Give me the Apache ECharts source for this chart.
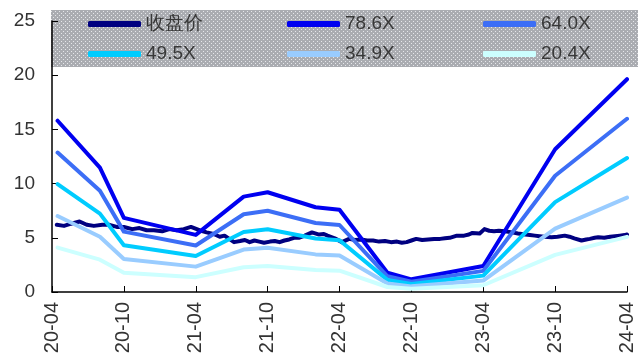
<!DOCTYPE html>
<html>
<head>
<meta charset="utf-8">
<script src="https://cdn.jsdelivr.net/npm/echarts@6/dist/echarts.min.js"></script>
<style>
  html, body { margin: 0; padding: 0; background: #fff; }
  #chart { width: 638px; height: 363px; }
</style>
</head>
<body>
<div id="chart"></div>
<script>
// closing price
const closeDates = [
  '2020-04-13','2020-05-01','2020-05-19','2020-06-10','2020-06-28','2020-07-16','2020-08-07','2020-08-25',
  '2020-09-13','2020-10-01','2020-10-22','2020-11-10','2020-11-28','2020-12-16','2021-01-07','2021-01-25',
  '2021-02-13','2021-03-01','2021-03-19','2021-04-10','2021-04-28','2021-05-16','2021-06-01','2021-06-13',
  '2021-06-25','2021-07-07','2021-07-22','2021-08-04','2021-08-16','2021-08-28','2021-09-10','2021-09-22',
  '2021-10-07','2021-10-19','2021-11-01','2021-11-13','2021-11-25','2021-12-07','2021-12-19','2022-01-04',
  '2022-01-22','2022-02-10','2022-02-22','2022-03-01','2022-03-19','2022-04-07','2022-04-25','2022-05-10',
  '2022-05-25','2022-06-10','2022-06-25','2022-07-10','2022-07-25','2022-08-10','2022-08-25','2022-09-07',
  '2022-09-19','2022-10-01','2022-10-13','2022-10-28','2022-11-13','2022-11-28','2022-12-13','2022-12-25',
  '2023-01-07','2023-01-25','2023-02-13','2023-02-25','2023-03-04','2023-03-22','2023-04-04','2023-04-16',
  '2023-04-28','2023-05-10','2023-05-25','2023-06-13','2023-06-28','2023-07-16','2023-07-28','2023-08-10',
  '2023-08-22','2023-09-04','2023-09-22','2023-10-07','2023-10-25','2023-11-07','2023-11-19','2023-12-07',
  '2023-12-19','2023-12-28','2024-01-10','2024-01-19','2024-02-04','2024-02-19','2024-03-01','2024-03-13',
  '2024-03-25','2024-04-01'
];
const closeValues = [
  6.2, 6.1, 6.3, 6.5, 6.2, 6.1, 6.2, 6.2,
  6.0, 6.0, 5.8, 5.9, 5.7, 5.7, 5.6, 5.8,
  5.7, 5.8, 6.0, 5.7, 5.5, 5.35, 5.1, 5.2,
  4.9, 4.6, 4.7, 4.8, 4.6, 4.75, 4.65, 4.55,
  4.65, 4.7, 4.6, 4.75, 4.85, 5.0, 5.0, 5.2,
  5.5, 5.3, 5.35, 5.2, 4.95, 4.6, 4.9, 4.8,
  4.85, 4.75, 4.75, 4.65, 4.7, 4.6, 4.65, 4.55,
  4.6, 4.75, 4.9, 4.8, 4.85, 4.9, 4.9, 4.95,
  5.0, 5.2, 5.2, 5.3, 5.45, 5.4, 5.8, 5.65,
  5.6, 5.65, 5.6, 5.5, 5.4, 5.3, 5.25, 5.2,
  5.15, 5.1, 5.05, 5.1, 5.2, 5.1, 4.95, 4.75,
  4.85, 4.9, 5.0, 5.05, 5.0, 5.1, 5.15, 5.2,
  5.25, 5.3
];

// PE band vertices
const bandDates = [
  '2020-04-15','2020-08-01','2020-10-01','2021-04-01','2021-08-01','2021-10-01','2022-02-01',
  '2022-04-01','2022-08-01','2022-10-01','2023-04-01','2023-10-01','2024-04-01'
];
const band786 = [15.80, 11.48, 6.84, 5.27, 8.80, 9.20, 7.82, 7.58, 1.78, 1.17, 2.40, 13.17, 19.63];
const band640 = [12.86, 9.34, 5.57, 4.29, 7.17, 7.49, 6.37, 6.18, 1.45, 0.95, 1.95, 10.72, 15.98];
const band495 = [9.95, 7.23, 4.31, 3.32, 5.54, 5.79, 4.93, 4.78, 1.12, 0.74, 1.51, 8.29, 12.36];
const band349 = [7.01, 5.10, 3.04, 2.34, 3.91, 4.08, 3.47, 3.37, 0.79, 0.52, 1.06, 5.85, 8.71];
const band204 = [4.10, 2.98, 1.77, 1.37, 2.28, 2.39, 2.03, 1.97, 0.46, 0.30, 0.62, 3.42, 5.09];

const xTickLabels = ['20-04', '20-10', '21-04', '21-10', '22-04', '22-10', '23-04', '23-10', '24-04'];

const FONT = "'Liberation Sans', Arial, sans-serif";

// months since 2020-04
function toMonth(s) {
  const [y, m, d] = s.split('-').map(Number);
  return (y - 2020) * 12 + (m - 4) + (d - 1) / 30;
}
function pairs(dates, values) {
  return dates.map((d, i) => [toMonth(d), values[i]]);
}

// grey dotted fill of the legend box
function dotPattern() {
  const c = document.createElement('canvas');
  c.width = 4; c.height = 4;
  const g = c.getContext('2d');
  g.fillStyle = '#aaacb1';
  g.fillRect(0, 0, 4, 4);
  g.fillStyle = '#e6e7ea';
  g.fillRect(1, 1, 1, 1);
  g.fillRect(3, 3, 1, 1);
  return { image: c, repeat: 'repeat' };
}

function lineSeries(name, color, data, width) {
  return {
    name,
    type: 'line',
    data,
    showSymbol: false,
    symbol: 'none',
    itemStyle: { color },
    lineStyle: { color, width, cap: 'round', join: 'round' },
    emphasis: { disabled: true },
    animation: false,
  };
}

const legendBase = {
  orient: 'vertical',
  top: 14,
  padding: 0,
  itemWidth: 53,
  itemHeight: 6,
  itemGap: 10,
  icon: 'roundRect',
  textStyle: { fontFamily: FONT, fontSize: 19, color: '#383838', lineHeight: 20 },
};

const chart = echarts.init(document.getElementById('chart'), null, { renderer: 'canvas' });
chart.setOption({
  animation: false,
  graphic: [
    {
      type: 'rect',
      z: -1,
      shape: { x: 51, y: 10, width: 600, height: 57 },
      style: { fill: dotPattern() },
    },
  ],
  legend: [
    Object.assign({}, legendBase, { left: 88, data: ['收盘价', '49.5X'] }),
    Object.assign({}, legendBase, { left: 287, data: ['78.6X', '34.9X'] }),
    Object.assign({}, legendBase, { left: 483, data: ['64.0X', '20.4X'] }),
  ],
  grid: { left: 52, right: 11, top: 21, bottom: 71 },
  xAxis: {
    type: 'value',
    min: 0,
    max: 48,
    interval: 6,
    axisLine: { lineStyle: { color: '#000', width: 1.5 } },
    axisTick: { inside: true, length: 6, lineStyle: { color: '#000' } },
    axisLabel: {
      rotate: 90,
      margin: 10,
      fontFamily: FONT,
      fontSize: 20,
      color: '#333',
      formatter: v => xTickLabels[Math.round(v / 6)] || '',
    },
    splitLine: { show: false },
  },
  yAxis: {
    type: 'value',
    min: 0,
    max: 25,
    interval: 5,
    axisLine: { show: true, lineStyle: { color: '#000', width: 1.5 } },
    axisTick: { show: true, inside: true, length: 6, lineStyle: { color: '#000' } },
    axisLabel: { margin: 17, fontFamily: FONT, fontSize: 19, color: '#333' },
    splitLine: { show: false },
  },
  series: [
    lineSeries('收盘价', '#000080', pairs(closeDates, closeValues), 4),
    lineSeries('78.6X', '#0000f0', pairs(bandDates, band786), 4),
    lineSeries('64.0X', '#3c6ef6', pairs(bandDates, band640), 4),
    lineSeries('49.5X', '#00ccff', pairs(bandDates, band495), 4),
    lineSeries('34.9X', '#99ccff', pairs(bandDates, band349), 4),
    lineSeries('20.4X', '#ccffff', pairs(bandDates, band204), 4),
  ],
});
</script>
</body>
</html>
